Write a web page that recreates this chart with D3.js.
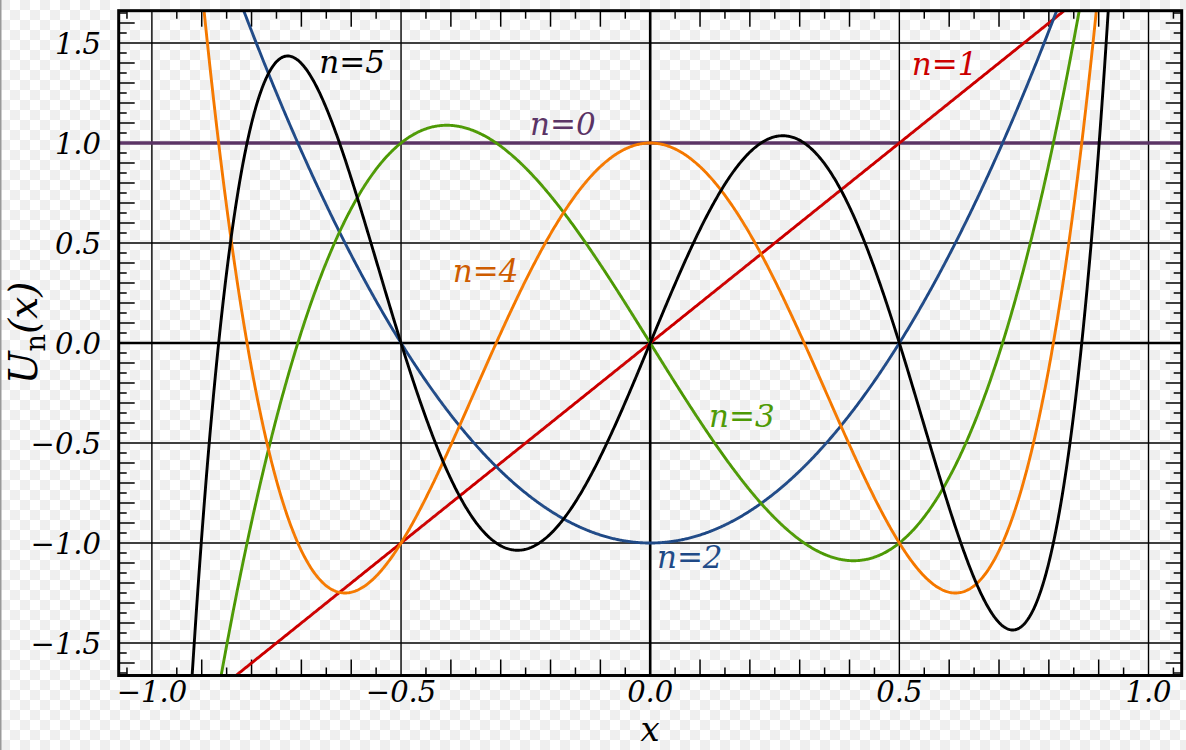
<!DOCTYPE html>
<html>
<head>
<meta charset="utf-8">
<script src="https://cdn.jsdelivr.net/npm/d3@7.9.0/dist/d3.min.js"></script>
<style>
  html, body { margin: 0; padding: 0; background: #fff; }
  svg { display: block; }
  text { font-family: "DejaVu Serif", serif; font-style: italic; }
</style>
</head>
<body>
<div id="chart"></div>
<script>
// Chebyshev polynomials of the second kind, coefficients of x^0..x^n
const orders = [0, 1, 2, 3, 4, 5];
const coefficients = [
  [1],
  [0, 2],
  [-1, 0, 4],
  [0, -4, 0, 8],
  [1, 0, -12, 0, 16],
  [0, 6, 0, -32, 0, 32]
];
const lineColors = ["#5c3566", "#cc0000", "#204a87", "#4e9a06", "#f57900", "#000000"];
const labelColors = ["#5c3566", "#cc0000", "#204a87", "#4e9a06", "#ce5c00", "#000000"];
// label anchors in data units
const labelX = [-0.241, 0.525, 0.0135, 0.118, -0.396, -0.664];
const labelY = [1.04, 1.34, -1.125, -0.42, 0.305, 1.35];

const xTicks = [-1.0, -0.5, 0.0, 0.5, 1.0];
const yTicks = [-1.5, -1.0, -0.5, 0.0, 0.5, 1.0, 1.5];
const xDomain = [-1.0666, 1.0666];
const yDomain = [-1.6625, 1.6615];

const width = 1186;
const height = 750;
const frame = { left: 118.7, right: 1181.7, top: 10.7, bottom: 675.5 };

const svg = d3.select("#chart")
  .append("svg")
  .attr("width", width)
  .attr("height", height);

// transparency checkerboard
const defs = svg.append("defs");
const pat = defs.append("pattern")
  .attr("id", "checker")
  .attr("width", 20).attr("height", 20)
  .attr("patternUnits", "userSpaceOnUse");
pat.append("rect").attr("width", 20).attr("height", 20).attr("fill", "#ffffff");
pat.append("rect").attr("width", 10).attr("height", 10).attr("fill", "#efefef");
pat.append("rect").attr("x", 10).attr("y", 10).attr("width", 10).attr("height", 10).attr("fill", "#efefef");
svg.append("rect").attr("width", width).attr("height", height).attr("fill", "url(#checker)");
svg.append("line")
  .attr("x1", 0.75).attr("x2", 0.75).attr("y1", 0).attr("y2", height)
  .attr("stroke", "#9a9a9a").attr("stroke-width", 1.5);

defs.append("clipPath").attr("id", "plotClip")
  .append("rect")
  .attr("x", frame.left).attr("y", frame.top)
  .attr("width", frame.right - frame.left)
  .attr("height", frame.bottom - frame.top);

const x = d3.scaleLinear().domain(xDomain).range([frame.left, frame.right]);
const y = d3.scaleLinear().domain(yDomain).range([frame.bottom, frame.top]);

// grid
const grid = svg.append("g");
grid.selectAll(".gx").data(xTicks).join("line")
  .attr("x1", d => x(d)).attr("x2", d => x(d))
  .attr("y1", frame.top).attr("y2", frame.bottom)
  .attr("stroke", "#000")
  .attr("stroke-width", d => d === 0 ? 2.6 : 1.4);
grid.selectAll(".gy").data(yTicks).join("line")
  .attr("y1", d => y(d)).attr("y2", d => y(d))
  .attr("x1", frame.left).attr("x2", frame.right)
  .attr("stroke", "#000")
  .attr("stroke-width", d => d === 0 ? 2.6 : 1.4);

// minor ticks every 0.05, longer at 0.1
const minorX = d3.range(-21, 22).map(i => i * 0.05);
const minorY = d3.range(-33, 34).map(i => i * 0.05);
const tickLen = i => (Math.abs(i) % 2 === 0 ? 16 : 8);

const ticks = svg.append("g").attr("stroke", "#000").attr("stroke-width", 1.5);
minorX.forEach((v, k) => {
  const i = k - 21;
  if (i % 10 === 0) return;
  const len = tickLen(i);
  ticks.append("line").attr("x1", x(v)).attr("x2", x(v))
    .attr("y1", frame.bottom).attr("y2", frame.bottom - len);
  ticks.append("line").attr("x1", x(v)).attr("x2", x(v))
    .attr("y1", frame.top).attr("y2", frame.top + len);
});
minorY.forEach((v, k) => {
  const i = k - 33;
  if (i % 10 === 0) return;
  const len = tickLen(i);
  ticks.append("line").attr("y1", y(v)).attr("y2", y(v))
    .attr("x1", frame.left).attr("x2", frame.left + len);
  ticks.append("line").attr("y1", y(v)).attr("y2", y(v))
    .attr("x1", frame.right).attr("x2", frame.right - len);
});

// curves
const evalPoly = (c, t) => c.reduceRight((acc, a) => acc * t + a, 0);
const xs = d3.range(0, 1201).map(i => xDomain[0] + (xDomain[1] - xDomain[0]) * i / 1200);
const line = d3.line().x(d => x(d[0])).y(d => y(d[1]));

const curves = svg.append("g").attr("clip-path", "url(#plotClip)");
orders.forEach(n => {
  const pts = xs.map(t => [t, Math.max(-5, Math.min(5, evalPoly(coefficients[n], t)))]);
  curves.append("path")
    .attr("d", line(pts))
    .attr("fill", "none")
    .attr("stroke", lineColors[n])
    .attr("stroke-width", n === 0 ? 3.4 : 2.9);
});

// frame
svg.append("rect")
  .attr("x", frame.left).attr("y", frame.top)
  .attr("width", frame.right - frame.left)
  .attr("height", frame.bottom - frame.top)
  .attr("fill", "none")
  .attr("stroke", "#000")
  .attr("stroke-width", 3);

// curve labels
orders.forEach(n => {
  svg.append("text")
    .attr("x", x(labelX[n])).attr("y", y(labelY[n]))
    .attr("fill", labelColors[n])
    .attr("font-size", 31)
    .text(`n=${n}`);
});

// tick labels
const fmt = d => d3.format(".1f")(d).replace("-", "\u2212");
svg.append("g").selectAll("text").data(xTicks).join("text")
  .attr("x", d => x(d)).attr("y", 702)
  .attr("text-anchor", "middle")
  .attr("font-size", 29)
  .attr("fill", "#000")
  .text(fmt);
svg.append("g").selectAll("text").data(yTicks).join("text")
  .attr("x", 101).attr("y", d => y(d) + 10.5)
  .attr("text-anchor", "end")
  .attr("font-size", 29)
  .attr("fill", "#000")
  .text(fmt);

// axis titles
svg.append("text")
  .attr("x", x(0)).attr("y", 741)
  .attr("text-anchor", "middle")
  .attr("font-size", 34)
  .text("x");

const yt = svg.append("text")
  .attr("transform", "translate(37,333) rotate(-90)")
  .attr("text-anchor", "middle")
  .attr("font-size", 39);
yt.append("tspan").text("U");
yt.append("tspan").attr("font-style", "normal").attr("font-size", 27).attr("dy", 8).text("n");
yt.append("tspan").attr("dy", -8).text("(x)");
</script>
</body>
</html>
